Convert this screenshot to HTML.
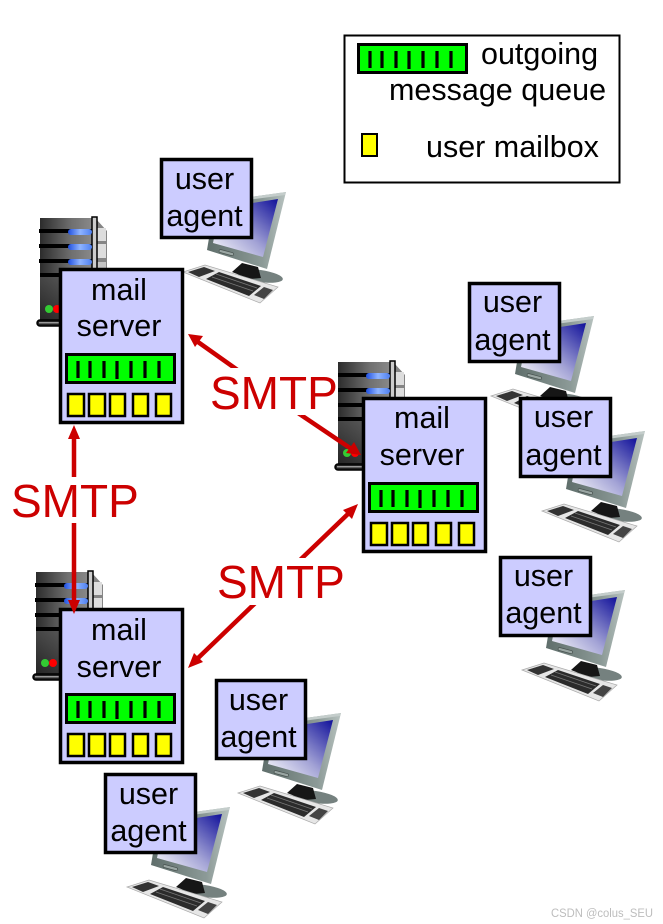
<!DOCTYPE html>
<html><head><meta charset="utf-8"><style>
html,body{margin:0;padding:0;background:#fff;width:663px;height:924px;overflow:hidden}
svg{display:block}
text{font-family:"Liberation Sans",sans-serif}
.t{font-size:30.5px;fill:#000;text-anchor:middle}
.l{font-size:30.5px;fill:#000}
.s{font-size:46px;fill:#cc0000}
</style></head><body>
<svg width="663" height="924" viewBox="0 0 663 924" xmlns="http://www.w3.org/2000/svg">
<defs>
<linearGradient id="tw" x1="0" x2="1" y1="0" y2="0"><stop offset="0" stop-color="#2c2c2c"/><stop offset=".6" stop-color="#707070"/><stop offset="1" stop-color="#8a8a8a"/></linearGradient>
<linearGradient id="twv" x1="0" x2="0" y1="0" y2="1"><stop offset="0" stop-color="#555"/><stop offset="1" stop-color="#222"/></linearGradient>
<linearGradient id="bl" x1="0" x2="1" y1="0" y2="0"><stop offset="0" stop-color="#1f4fe0"/><stop offset=".5" stop-color="#8fb4ff"/><stop offset="1" stop-color="#4f80f0"/></linearGradient>
<linearGradient id="scr" x1="1" x2="0" y1="0" y2="1"><stop offset="0" stop-color="#10109a"/><stop offset=".55" stop-color="#a4a4d6"/><stop offset="1" stop-color="#fff"/></linearGradient>
<linearGradient id="fr" x1="0" x2="1" y1="0" y2="0"><stop offset="0" stop-color="#5f6e6b"/><stop offset=".7" stop-color="#8c9a97"/><stop offset="1" stop-color="#b7c2bf"/></linearGradient>
<g id="tower">
<polygon points="66,1 77,13 77,72 66,72" fill="#858585"/>
<rect x="67" y="10" width="9" height="13" fill="#ddd"/><rect x="67" y="26" width="9" height="14" fill="#ddd"/><rect x="67" y="44" width="9" height="14" fill="#c4c4c4"/>
<rect x="10" y="0" width="53" height="102" fill="url(#tw)"/>
<rect x="10" y="55" width="53" height="47" fill="url(#twv)" opacity=".7"/>
<rect x="62" y="-1" width="5" height="60" fill="#ccc" stroke="#000" stroke-width="1.5"/>
<rect x="9" y="11" width="53" height="4" fill="#000"/><rect x="9" y="26" width="53" height="4" fill="#000"/><rect x="9" y="41" width="53" height="4" fill="#000"/><rect x="10" y="55" width="53" height="4" fill="#000"/>
<rect x="38" y="11" width="24" height="6" rx="3" fill="url(#bl)"/><rect x="38" y="26" width="24" height="6" rx="3" fill="url(#bl)"/><rect x="38" y="41" width="24" height="6" rx="3" fill="url(#bl)"/>
<circle cx="19" cy="91" r="4" fill="#33cc33"/><circle cx="27" cy="91" r="4" fill="#ff0000"/>
<rect x="7" y="102" width="50" height="6" rx="3" fill="#222" stroke="#000" stroke-width="1.5"/>
<rect x="9" y="104" width="46" height="1.500" fill="#999"/>
</g>
<g id="queue">
<rect x="1.5" y="1.5" width="108" height="28" fill="#00ff00" stroke="#000" stroke-width="3"/>
<g stroke="#000" stroke-width="3.2"><path d="M13 8V25M25 8V25M39 8V25M52 8V26M66 8V25M80 8V25M94 8V25"/></g>
</g>
<g id="server">
<rect x="1.5" y="1.5" width="122" height="153" fill="#ccccff" stroke="#000" stroke-width="3.500"/>
<use href="#queue" x="6" y="85"/>
<g fill="#ffff00" stroke="#000" stroke-width="2.5"><rect x="9" y="126" width="16" height="22"/><rect x="30" y="126" width="16" height="22"/><rect x="51" y="126" width="15" height="22"/><rect x="74" y="126" width="15" height="22"/><rect x="97" y="126" width="15" height="22"/></g>
</g>
<g id="pc">
<polygon points="55,44 126,34 107,111 47,92" fill="url(#fr)"/>
<polygon points="55,44 126,34 125,37 58,46" fill="#c4cdcb"/>
<polygon points="60,50 118,41 103,99 53,85" fill="url(#scr)"/>
<rect x="59" y="93" width="15" height="3" rx="1.500" fill="#9aa6a3" stroke="#48524f" stroke-width=".7" transform="rotate(15 66 94)"/>
<ellipse cx="100" cy="118" rx="23" ry="6" fill="#75817f" transform="rotate(8 100 118)"/>
<polygon points="82,105 98,109 101,120 90,121 72,114" fill="#161616"/>
<polygon points="23,114 45,107 118,129 100,145" fill="#e6e6e6" stroke="#aaa" stroke-width=".7"/>
<polygon points="28,114 44,109 55,113 39,119" fill="#333"/>
<polygon points="46,121 59,114 101,128 89,138" fill="#2b2b2b"/>
<path d="M52,119L93,133M56,116L97,130" stroke="#777" stroke-width=".8"/>
<polygon points="94,137 104,129 113,132 104,141" fill="#444"/>
</g>
</defs>

<!-- towers -->
<use href="#tower" x="30" y="218"/>
<use href="#tower" x="328" y="362"/>
<use href="#tower" x="26" y="572"/>

<!-- computers & user agents -->
<use href="#pc" x="160" y="158"/>
<rect x="161.500" y="159.500" width="90" height="78" fill="#ccccff" stroke="#000" stroke-width="3.500"/>
<text class="t" x="204.500" y="189">user</text><text class="t" x="204.500" y="226">agent</text>

<use href="#pc" x="468" y="282"/>
<rect x="469.500" y="283.500" width="90" height="78" fill="#ccccff" stroke="#000" stroke-width="3.500"/>
<text class="t" x="512.500" y="312">user</text><text class="t" x="512.500" y="350">agent</text>

<use href="#pc" x="519" y="397"/>
<rect x="520.500" y="398.500" width="90" height="78" fill="#ccccff" stroke="#000" stroke-width="3.500"/>
<text class="t" x="563.500" y="427">user</text><text class="t" x="563.500" y="465">agent</text>

<use href="#pc" x="499" y="556"/>
<rect x="500.500" y="557.500" width="90" height="78" fill="#ccccff" stroke="#000" stroke-width="3.500"/>
<text class="t" x="543.500" y="586">user</text><text class="t" x="543.500" y="623">agent</text>

<use href="#pc" x="215" y="679"/>
<rect x="216.500" y="680.500" width="89" height="78" fill="#ccccff" stroke="#000" stroke-width="3.500"/>
<text class="t" x="258.500" y="710">user</text><text class="t" x="258.500" y="747">agent</text>

<use href="#pc" x="104" y="773"/>
<rect x="105.500" y="774.500" width="90" height="78" fill="#ccccff" stroke="#000" stroke-width="3.500"/>
<text class="t" x="148.500" y="804">user</text><text class="t" x="148.500" y="841">agent</text>

<!-- mail servers -->
<use href="#server" x="59" y="268"/>
<text class="t" x="119" y="300">mail</text><text class="t" x="119" y="336">server</text>
<use href="#server" x="362" y="397"/>
<text class="t" x="422" y="428">mail</text><text class="t" x="422" y="465">server</text>
<use href="#server" x="59" y="608"/>
<text class="t" x="119" y="640">mail</text><text class="t" x="119" y="677">server</text>

<!-- arrows -->
<g stroke="#cc0000" stroke-width="4.500" fill="none">
<path d="M74 436V604"/>
<path d="M198 342L301 415"/><path d="M301 415L350 448"/>
<path d="M350 512L196 660"/>
</g>
<g fill="#cc0000">
<polygon points="74,425 68,439 80,439"/>
<polygon points="74,614 68,600 80,600"/>
<polygon points="188,334 203,336 195,347"/>
<polygon points="361,455 346,453 354,442"/>
<polygon points="358,504 352,519 343,510"/>
<polygon points="188,668 194,653 203,662"/>
</g>
<!-- SMTP labels -->
<rect x="208" y="368" width="130" height="47" fill="#fff"/>
<text class="s" x="210" y="409">SMTP</text>
<rect x="9" y="477" width="130" height="46" fill="#fff"/>
<text class="s" x="11" y="517">SMTP</text>
<rect x="215" y="558" width="130" height="47" fill="#fff"/>
<text class="s" x="217" y="598">SMTP</text>

<!-- legend -->
<rect x="344.500" y="35.500" width="275" height="147" fill="#fff" stroke="#000" stroke-width="2"/>
<use href="#queue" x="357" y="43"/>
<text class="l" x="481" y="64">outgoing</text>
<text class="l" x="389" y="100">message queue</text>
<rect x="362" y="134" width="15" height="22" fill="#ffff00" stroke="#000" stroke-width="2"/>
<text class="l" x="426" y="157">user mailbox</text>

<text x="551" y="917" font-size="11.500" fill="#bdbdbd" textLength="102" lengthAdjust="spacingAndGlyphs">CSDN @colus_SEU</text>
</svg>
</body></html>
